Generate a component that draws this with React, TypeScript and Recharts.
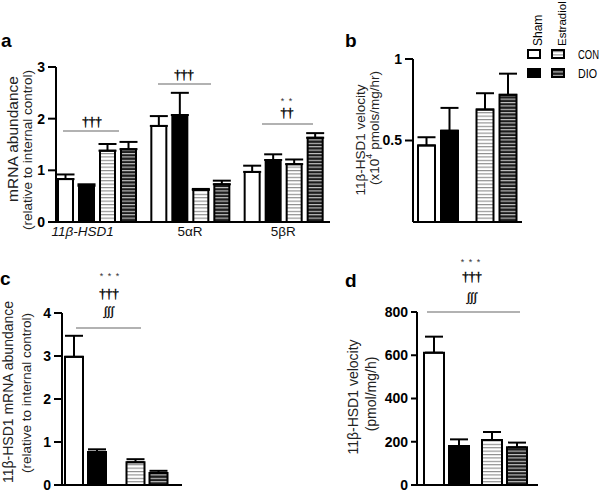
import { BarChart, Bar, XAxis, YAxis, ErrorBar, Cell } from "recharts";

// panel a: mRNA abundance per gene (Sham/Estradiol x CON/DIO)
const genes = ["11β-HSD1", "5αR", "5βR"];
const aShamCon = [0.83, 1.86, 0.97];
const aShamConErr = [0.09, 0.19, 0.12];
const aShamDio = [0.7, 2.07, 1.2];
const aShamDioErr = [0.03, 0.43, 0.11];
const aE2Con = [1.38, 0.62, 1.12];
const aE2ConErr = [0.13, 0.02, 0.09];
const aE2Dio = [1.41, 0.73, 1.63];
const aE2DioErr = [0.14, 0.07, 0.09];
const aTicks = [0, 1, 2, 3];

// panels b-d: one bar pair per treatment
const groups = ["Sham", "Estradiol"];

const bCon = [0.47, 0.69];
const bConErr = [0.05, 0.1];
const bDio = [0.56, 0.78];
const bDioErr = [0.14, 0.13];
const bTicks = [0.5, 1];

const cCon = [2.98, 0.53];
const cConErr = [0.49, 0.07];
const cDio = [0.77, 0.28];
const cDioErr = [0.06, 0.05];
const cTicks = [0, 1, 2, 3, 4];

const dCon = [612, 208];
const dConErr = [74, 37];
const dDio = [180, 174];
const dDioErr = [31, 22];
const dTicks = [0, 200, 400, 600, 800];

const conFills = ["#ffffff", "url(#stripeLight)"];
const dioFills = ["#000000", "url(#stripeDark)"];

const font = "'Liberation Sans', Arial, Helvetica, sans-serif";
const axisLine = { stroke: "#000", strokeWidth: 2 };
const yTick = { fill: "#000", fontSize: 14, fontWeight: "bold" as const };

const aData = genes.map((g, i) => ({
	gene: g,
	shamCon: aShamCon[i],
	shamConErr: [0, aShamConErr[i]],
	shamDio: aShamDio[i],
	shamDioErr: [0, aShamDioErr[i]],
	e2Con: aE2Con[i],
	e2ConErr: [0, aE2ConErr[i]],
	e2Dio: aE2Dio[i],
	e2DioErr: [0, aE2DioErr[i]],
}));

function GeneTick(props: any) {
	const { x, y, payload } = props;
	const italic = payload.value === "11β-HSD1";
	return (
		<text
			x={x}
			y={y}
			dx={italic ? -14 : 0}
			dy={12}
			textAnchor="middle"
			fontSize={13.5}
			fontStyle={italic ? "italic" : "normal"}
			fill="#111"
		>
			{payload.value}
		</text>
	);
}

function PanelA() {
	const keys = ["shamCon", "shamDio", "e2Con", "e2Dio"];
	const fills = ["#fff", "#000", "url(#stripeLight)", "url(#stripeDark)"];
	return (
		<div style={{ position: "absolute", left: 0, top: 0 }}>
			<BarChart
				width={340}
				height={250}
				data={aData}
				margin={{ top: 67, right: 10, bottom: 8, left: 26 }}
				barSize={15}
				barGap={6}
			>
				<XAxis
					dataKey="gene"
					height={20}
					axisLine={axisLine}
					tickLine={false}
					tickSize={0}
					tick={<GeneTick />}
					padding={{ left: -6, right: 0 }}
					interval={0}
				/>
				<YAxis
					width={30}
					domain={[0, 3]}
					ticks={aTicks}
					axisLine={axisLine}
					tickLine={axisLine}
					tickSize={8}
					tickMargin={3}
					tick={yTick}
				/>
				{keys.map((k, i) => (
					<Bar
						key={k}
						dataKey={k}
						fill={fills[i]}
						stroke="#000"
						strokeWidth={2}
						isAnimationActive={false}
					>
						<ErrorBar
							dataKey={k + "Err"}
							direction="y"
							width={9}
							stroke="#000"
							strokeWidth={2}
						/>
					</Bar>
				))}
			</BarChart>
		</div>
	);
}

type PairProps = {
	left: number;
	top: number;
	width: number;
	height: number;
	margin: { top: number; right: number; bottom: number; left: number };
	yWidth: number;
	domain: [number, number];
	ticks: number[];
	con: number[];
	conErr: number[];
	dio: number[];
	dioErr: number[];
	barSize: number;
	barGap: number;
	padding: { left: number; right: number };
	tickSize: number;
	xHeight: number;
};

function PairPanel(p: PairProps) {
	const data = groups.map((g, i) => ({
		group: g,
		con: p.con[i],
		conErr: [0, p.conErr[i]],
		dio: p.dio[i],
		dioErr: [0, p.dioErr[i]],
	}));
	return (
		<div style={{ position: "absolute", left: p.left, top: p.top }}>
			<BarChart
				width={p.width}
				height={p.height}
				data={data}
				margin={p.margin}
				barSize={p.barSize}
				barGap={p.barGap}
			>
				<XAxis
					dataKey="group"
					height={p.xHeight}
					axisLine={axisLine}
					tickLine={false}
					tick={false}
					padding={p.padding}
				/>
				<YAxis
					width={p.yWidth}
					domain={p.domain}
					ticks={p.ticks}
					axisLine={axisLine}
					tickLine={axisLine}
					tickSize={p.tickSize}
					tickMargin={3}
					tick={yTick}
				/>
				<Bar dataKey="con" stroke="#000" strokeWidth={2} isAnimationActive={false}>
					{data.map((d, i) => (
						<Cell key={d.group} fill={conFills[i]} />
					))}
					<ErrorBar dataKey="conErr" direction="y" width={9} stroke="#000" strokeWidth={2} />
				</Bar>
				<Bar dataKey="dio" stroke="#000" strokeWidth={2} isAnimationActive={false}>
					{data.map((d, i) => (
						<Cell key={d.group} fill={dioFills[i]} />
					))}
					<ErrorBar dataKey="dioErr" direction="y" width={9} stroke="#000" strokeWidth={2} />
				</Bar>
			</BarChart>
		</div>
	);
}

function VLabel({ x, y, size, children }: any) {
	return (
		<text
			x={x}
			y={y}
			fontSize={size}
			textAnchor="middle"
			dominantBaseline="central"
			transform={`rotate(-90 ${x} ${y})`}
			fill="#222"
		>
			{children}
		</text>
	);
}

function Sig({ x, y, text, size = 13 }: any) {
	return (
		<text
			x={x}
			y={y}
			fontSize={size}
			textAnchor="middle"
			fill="#000"
			stroke="#000"
			strokeWidth={0.4}
			fontFamily="'Liberation Serif', serif"
		>
			{text}
		</text>
	);
}

function Stars({ x, y, text }: any) {
	return (
		<text x={x} y={y} fontSize={9} textAnchor="middle" fill="#333" letterSpacing={1}>
			{text}
		</text>
	);
}

function Overlay() {
	const line = { stroke: "#666", strokeWidth: 1.2 };
	return (
		<svg
			width={605}
			height={494}
			style={{ position: "absolute", left: 0, top: 0, pointerEvents: "none" }}
			fontFamily={font}
		>
			{/* panel letters */}
			<text x={1} y={47} fontSize={19} fontWeight="bold">a</text>
			<text x={345} y={47} fontSize={19} fontWeight="bold">b</text>
			<text x={0} y={285} fontSize={19} fontWeight="bold">c</text>
			<text x={345} y={287} fontSize={19} fontWeight="bold">d</text>

			{/* axis titles */}
			<VLabel x={12} y={139} size={15.5}>mRNA abundance</VLabel>
			<VLabel x={27} y={150} size={13.5}>(relative to internal control)</VLabel>
			<VLabel x={360} y={140} size={13.5}>11β-HSD1 velocity</VLabel>
			<VLabel x={374} y={128} size={13.5}>
				(x10<tspan baselineShift="super" fontSize={9}>4</tspan> pmols/mg/hr)
			</VLabel>
			<VLabel x={8} y={392} size={14}>11β-HSD1 mRNA abundance</VLabel>
			<VLabel x={26} y={393} size={13.5}>(relative to internal control)</VLabel>
			<VLabel x={353} y={397} size={14}>11β-HSD1 velocity</VLabel>
			<VLabel x={371} y={394} size={14}>(pmol/mg/h)</VLabel>

			{/* significance marks */}
			<Sig x={92} y={126} text="†††" size={13} />
			<line x1={63} y1={131} x2={119} y2={131} {...line} />
			<Sig x={184} y={79} text="†††" size={13} />
			<line x1={158} y1={84} x2={211} y2={84} {...line} />
			<Stars x={287} y={104} text="* *" />
			<Sig x={287} y={117} text="††" size={13} />
			<line x1={262} y1={124} x2={313} y2={124} {...line} />

			<Stars x={110} y={279} text="* * *" />
			<Sig x={109} y={298} text="†††" size={13} />
			<Sig x={109} y={315} text="∫∫∫" size={12} />
			<line x1={76} y1={328} x2={141} y2={328} {...line} />

			<Stars x={471} y={265} text="* * *" />
			<Sig x={472} y={281} text="†††" size={13} />
			<Sig x={472} y={301} text="∫∫∫" size={12} />
			<line x1={427} y1={312} x2={520} y2={312} {...line} />

			{/* legend */}
			<text x={542} y={46} fontSize={12} transform="rotate(-90 542 46)">Sham</text>
			<text x={566} y={46} fontSize={11.5} transform="rotate(-90 566 46)">Estradiol</text>
			<rect x={528} y={50} width={12} height={8} fill="#fff" stroke="#000" strokeWidth={2} />
			<rect x={552} y={50} width={12} height={8} fill="url(#stripeLight)" stroke="#000" strokeWidth={2} />
			<rect x={528} y={69} width={12} height={8} fill="#000" stroke="#000" strokeWidth={2} />
			<rect x={552} y={69} width={12} height={8} fill="url(#stripeDark)" stroke="#000" strokeWidth={2} />
			<text x={578} y={59} fontSize={12} textLength={21} lengthAdjust="spacingAndGlyphs">CON</text>
			<text x={578} y={78} fontSize={12} textLength={19} lengthAdjust="spacingAndGlyphs">DIO</text>
		</svg>
	);
}

export default function App() {
	return (
		<div
			style={{
				position: "absolute",
				left: 0,
				top: 0,
				width: 605,
				height: 494,
				background: "#fff",
				fontFamily: font,
			}}
		>
			<svg width={0} height={0} style={{ position: "absolute" }}>
				<defs>
					<pattern id="stripeLight" patternUnits="userSpaceOnUse" width={4} height={3.4}>
						<rect width={4} height={3.4} fill="#fff" />
						<rect width={4} height={1.1} fill="#8a8a8a" />
					</pattern>
					<pattern id="stripeDark" patternUnits="userSpaceOnUse" width={4} height={3.4}>
						<rect width={4} height={3.4} fill="#1c1c1c" />
						<rect width={4} height={1.1} fill="#c8c8c8" />
					</pattern>
				</defs>
			</svg>
			<PanelA />
			<PairPanel
				left={360}
				top={0}
				width={175}
				height={250}
				margin={{ top: 59, right: 13, bottom: 8, left: 23 }}
				yWidth={30}
				domain={[0, 1]}
				ticks={bTicks}
				con={bCon}
				conErr={bConErr}
				dio={bDio}
				dioErr={bDioErr}
				barSize={17}
				barGap={6}
				padding={{ left: -4, right: -4 }}
				tickSize={8}
				xHeight={20}
			/>
			<PairPanel
				left={0}
				top={250}
				width={200}
				height={244}
				margin={{ top: 63, right: 18, bottom: 8, left: 32 }}
				yWidth={30}
				domain={[0, 4]}
				ticks={cTicks}
				con={cCon}
				conErr={cConErr}
				dio={cDio}
				dioErr={cDioErr}
				barSize={18}
				barGap={5}
				padding={{ left: -7, right: 4 }}
				tickSize={8}
				xHeight={1}
			/>
			<PairPanel
				left={360}
				top={250}
				width={190}
				height={244}
				margin={{ top: 62, right: 12, bottom: 8, left: 17 }}
				yWidth={40}
				domain={[0, 800]}
				ticks={dTicks}
				con={dCon}
				conErr={dConErr}
				dio={dDio}
				dioErr={dDioErr}
				barSize={20}
				barGap={5}
				padding={{ left: 0, right: 5 }}
				tickSize={6}
				xHeight={1}
			/>
			<Overlay />
		</div>
	);
}
